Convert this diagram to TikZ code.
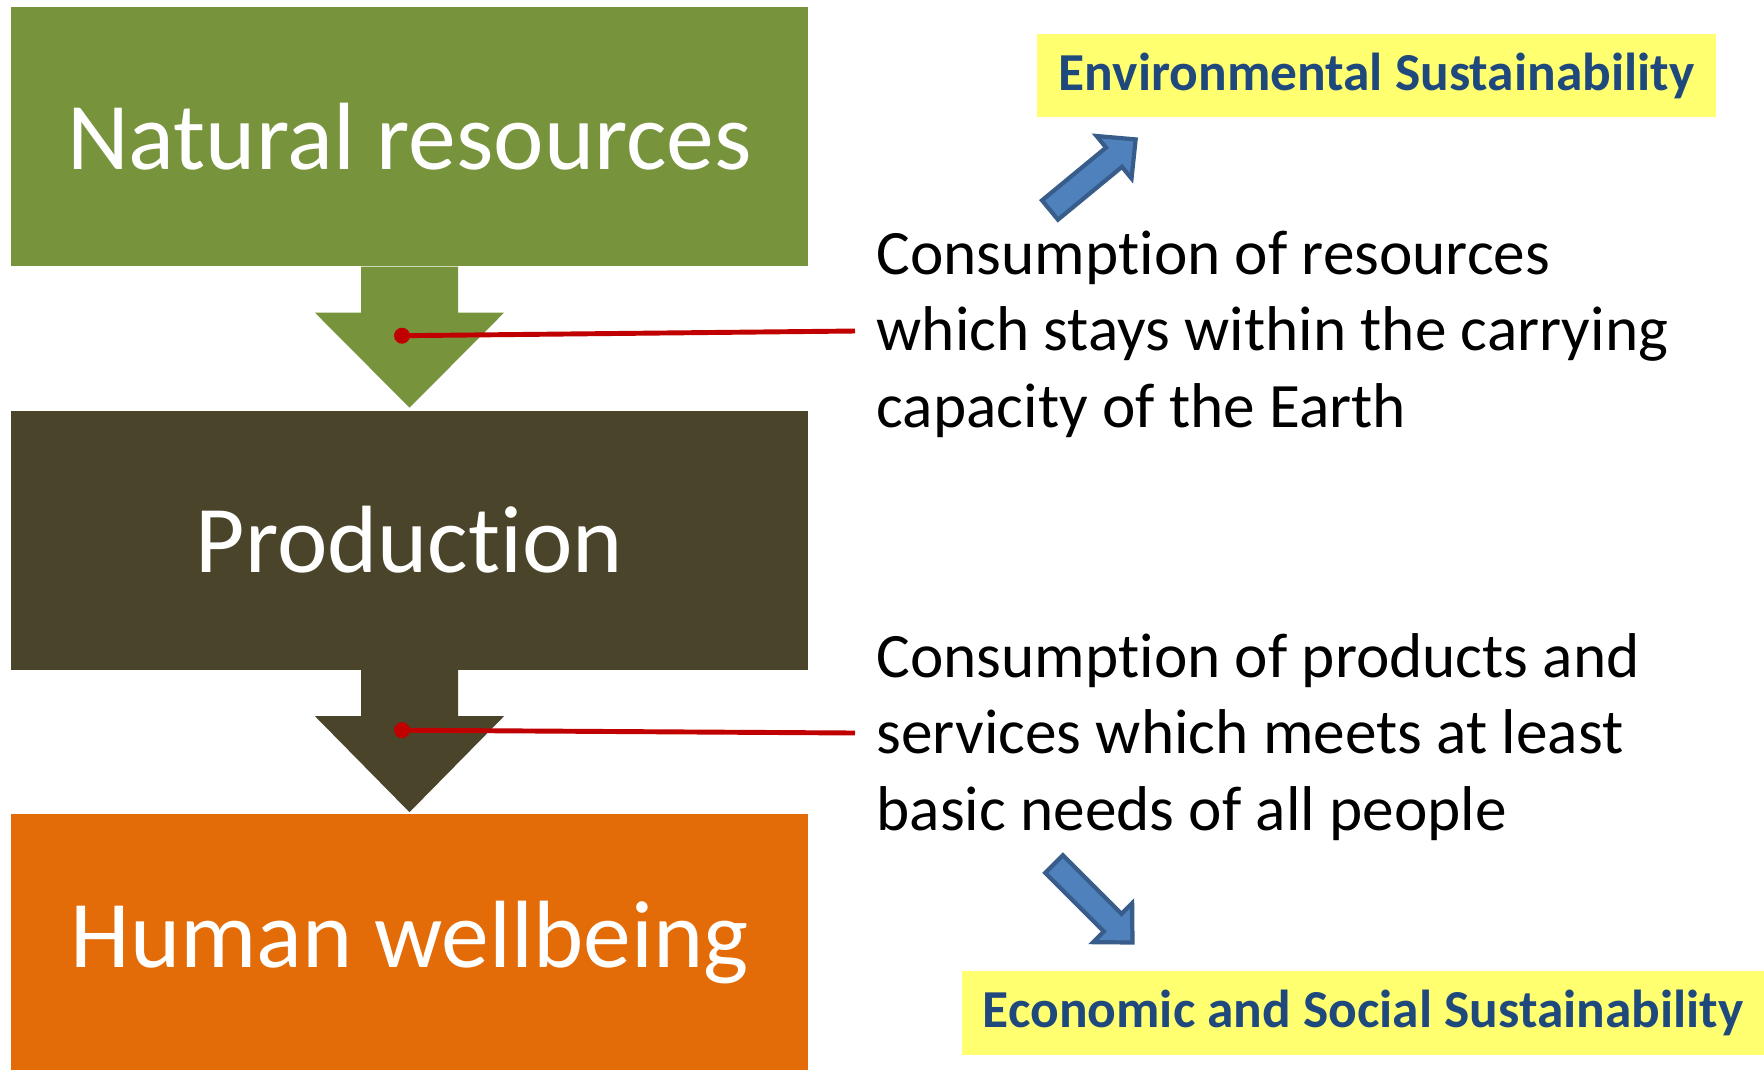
\documentclass[tikz,border=0pt]{standalone}
\usepackage{fontspec}
\setmainfont{Carlito}[Ligatures=NoCommon]
\definecolor{natgreen}{HTML}{77933C}
\definecolor{proddark}{HTML}{4A452A}
\definecolor{wellorange}{HTML}{E36C09}
\definecolor{linkred}{HTML}{C00000}
\definecolor{arrowblue}{HTML}{4F81BD}
\definecolor{arrowedge}{HTML}{385D8A}
\definecolor{goalyellow}{HTML}{FFFF70}
\definecolor{goalblue}{HTML}{1F497D}

\tikzset{
  stage/.style={minimum width=79.7mm, minimum height=25.9mm, inner sep=0pt,
    text=white, font=\fontsize{27.2}{33}\selectfont},
  note/.style={anchor=west, align=left, inner sep=0pt, font=\fontsize{18}{21.8}\selectfont},
  goal/.style={fill=goalyellow, text=goalblue, inner sep=0pt,
    font=\bfseries\fontsize{15.2}{18}\selectfont},
  link/.style={draw=linkred, line width=1.4pt},
  reddot/.style={circle, fill=linkred, inner sep=0pt, minimum size=1.6mm},
  blockarrow/.pic={
    \filldraw[fill=arrowblue, draw=arrowedge, line width=1.2pt]
      (0,-12.5) -- (83,-12.5) -- (83,-27.5) -- (111,0) -- (83,27.5) -- (83,12.5) -- (0,12.5) -- cycle;
  }
}

\begin{document}
\begin{tikzpicture}[x=0.1mm, y=-0.1mm]
\useasboundingbox (0,0) rectangle (1764,1069);

% the three stages
\node[stage, fill=natgreen] (nat) at (409.5,136.5) {Natural resources};
\node[stage, fill=proddark] (prod) at (409.5,540) {Production};
\node[stage, fill=wellorange, minimum height=25.7mm] (well) at (409.5,942.5) {Human wellbeing};

% arrows between them
\fill[natgreen] (nat.south) ++(-48.5,0) -- ++(0,46) -- ++(-46,0) -- ++(94.5,95)
  -- ++(94.5,-95) -- ++(-46,0) -- ++(0,-46) -- cycle;
\fill[proddark] (prod.south) ++(-48.5,0) -- ++(0,46) -- ++(-46,0) -- ++(94.5,96)
  -- ++(94.5,-96) -- ++(-46,0) -- ++(0,-46) -- cycle;

% notes
\node[note] (res) at (876,334) {Consumption of resources\\which stays within the carrying\\capacity of the Earth};
\node[note] (needs) at (876,737) {Consumption of products and\\services which meets at least\\basic needs of all people};

\node[reddot] (d1) at ([shift={(-7.5,69)}]nat.south) {};
\node[reddot] (d2) at ([shift={(-7.5,60)}]prod.south) {};
\coordinate (e1) at (855,331);
\coordinate (e2) at (855,733);
\draw[link] (d1.center) -- (e1);
\draw[link] (d2.center) -- (e2);

% sustainability goals
\node[goal, minimum width=67.9mm, minimum height=8.3mm] (env) at (1376.5,75.5) {Environmental Sustainability};
\node[goal, minimum width=80.2mm, minimum height=8.4mm] (eco) at (1363,1013) {Economic and Social Sustainability};

\pic[rotate=39.5] at (1050,210) {blockarrow};
\pic[rotate=-45] at (1054,864) {blockarrow};
\end{tikzpicture}
\end{document}
